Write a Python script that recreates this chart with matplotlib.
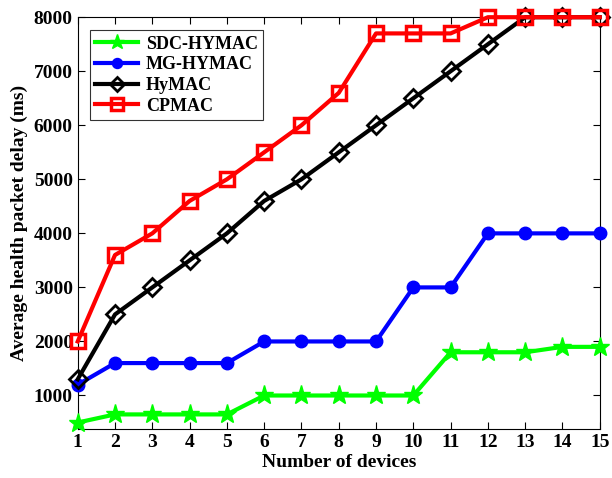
import matplotlib
matplotlib.use("Agg")
import matplotlib.pyplot as plt

devices = list(range(1, 16))
sdc_hymac = [500, 650, 650, 650, 650, 1000, 1000, 1000, 1000, 1000, 1800, 1800, 1800, 1900, 1900]
mg_hymac = [1200, 1600, 1600, 1600, 1600, 2000, 2000, 2000, 2000, 3000, 3000, 4000, 4000, 4000, 4000]
hymac = [1300, 2500, 3000, 3500, 4000, 4600, 5000, 5500, 6000, 6500, 7000, 7500, 8000, 8000, 8000]
cpmac = [2000, 3600, 4000, 4600, 5000, 5500, 6000, 6600, 7700, 7700, 7700, 8000, 8000, 8000, 8000]
yticks = [1000, 2000, 3000, 4000, 5000, 6000, 7000, 8000]

plt.rcParams['font.family'] = ['Liberation Serif', 'DejaVu Serif']
plt.rcParams['font.weight'] = 'bold'

fig = plt.figure(figsize=(6.12, 4.78), dpi=100)
ax = fig.add_axes([0.127, 0.1025, 0.853, 0.8615])

ax.plot(devices, sdc_hymac, color='#00ff00', lw=3, marker='*', ms=14, label='SDC-HYMAC', clip_on=False, zorder=3)
ax.plot(devices, mg_hymac, color='#0000ff', lw=3, marker='o', ms=9, label='MG-HYMAC', clip_on=False, zorder=3)
ax.plot(devices, hymac, color='black', lw=3, marker='D', ms=9, mfc='none', mew=2, label='HyMAC', clip_on=False, zorder=4)
ax.plot(devices, cpmac, color='#ff0000', lw=3, marker='s', ms=10, mfc='none', mew=2.5, label='CPMAC', clip_on=False, zorder=5)

ax.set_xlim(1, 15)
ax.set_ylim(380, 8000)
ax.set_xticks(devices)
ax.set_yticks(yticks)
ax.tick_params(direction='in', top=True, right=True, labelsize=14, width=0.8, length=5)
for lab in ax.get_xticklabels() + ax.get_yticklabels():
    lab.set_fontweight('bold')
ax.set_xlabel('Number of devices', fontsize=14, fontweight='bold', labelpad=2)
ax.set_ylabel('Average health packet delay (ms)', fontsize=14, fontweight='bold')
for s in ax.spines.values():
    s.set_linewidth(0.8)

leg = ax.legend(loc='upper left', bbox_to_anchor=(0.023, 0.968), borderaxespad=0, fontsize=13,
                frameon=True, fancybox=False, edgecolor='black', handlelength=2.4, borderpad=0.3,
                labelspacing=0.2, handletextpad=0.4, markerscale=0.8)
leg.get_frame().set_linewidth(0.8)
for t in leg.get_texts():
    t.set_fontweight('bold')

fig.savefig('out.png', dpi=100)
